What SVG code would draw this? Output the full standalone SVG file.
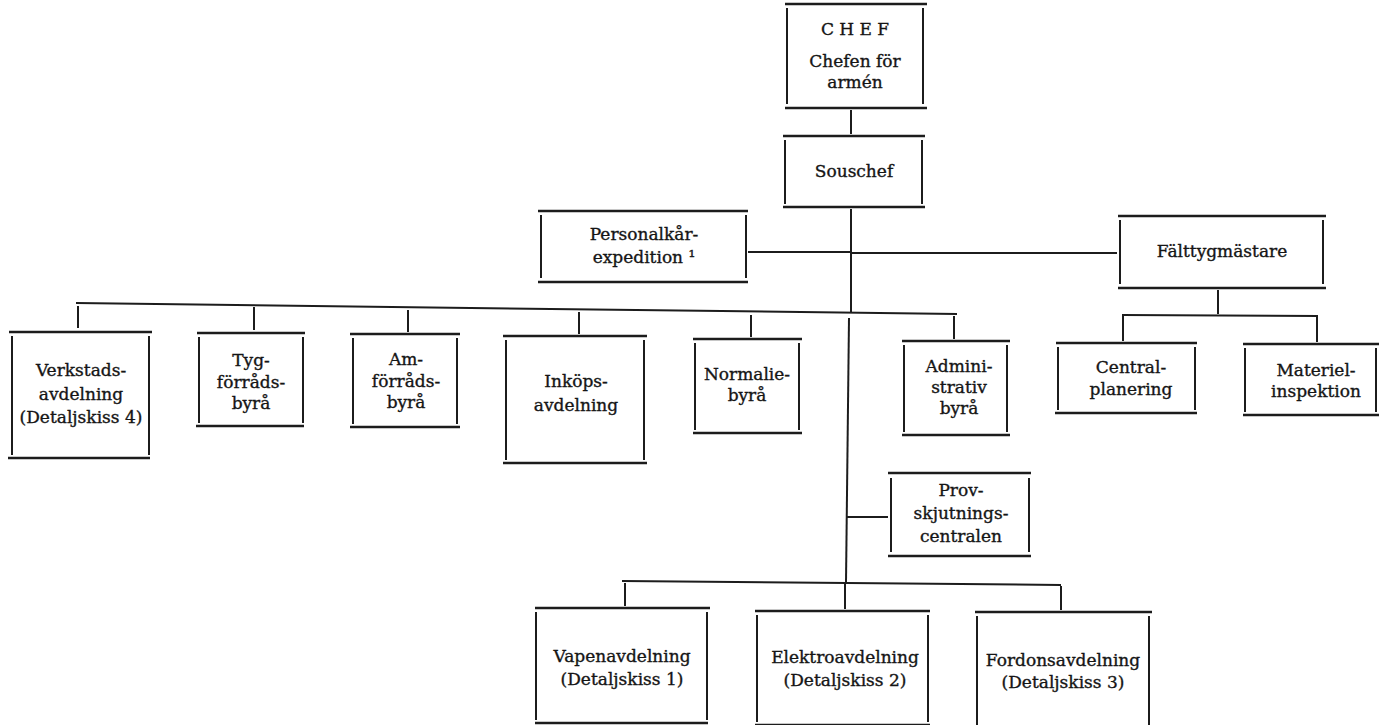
<svg xmlns="http://www.w3.org/2000/svg" width="1379" height="725" viewBox="0 0 1379 725">
<style>
.h{stroke:#1c1c1c;stroke-width:2.6;fill:none}
.v{stroke:#1c1c1c;stroke-width:2;fill:none}
.c{stroke:#1c1c1c;stroke-width:2;fill:none}
text{font-family:"DejaVu Serif","Liberation Serif",serif;font-size:17px;fill:#151515;stroke:#151515;stroke-width:0.35;text-anchor:middle}
</style>
<rect width="1379" height="725" fill="#ffffff"/>
<g id="connectors">
<line class="c" x1="851" y1="110" x2="851" y2="134"/>
<line class="c" x1="851" y1="209" x2="851" y2="312"/>
<line class="c" x1="748" y1="252" x2="851" y2="252"/>
<line class="c" x1="851" y1="253" x2="1117" y2="253"/>
<line class="c" x1="76" y1="303" x2="957" y2="314"/>
<line class="c" x1="78" y1="306" x2="78" y2="328"/>
<line class="c" x1="254" y1="307" x2="254" y2="330"/>
<line class="c" x1="408" y1="310" x2="408" y2="332"/>
<line class="c" x1="579" y1="312" x2="579" y2="334"/>
<line class="c" x1="751" y1="315" x2="751" y2="337"/>
<line class="c" x1="954" y1="316" x2="954" y2="339"/>
<line class="c" x1="849" y1="318" x2="846" y2="582"/>
<line class="c" x1="846" y1="517" x2="888" y2="517"/>
<line class="c" x1="622" y1="581" x2="1061" y2="585"/>
<line class="c" x1="625" y1="583" x2="625" y2="606"/>
<line class="c" x1="845" y1="584" x2="845" y2="609"/>
<line class="c" x1="1061" y1="586" x2="1061" y2="610"/>
<line class="c" x1="1218" y1="290" x2="1218" y2="314"/>
<line class="c" x1="1122" y1="315" x2="1318" y2="316"/>
<line class="c" x1="1123" y1="316" x2="1123" y2="341"/>
<line class="c" x1="1317" y1="317" x2="1317" y2="342"/>
</g>
<g id="chef">
<line class="h" x1="785" y1="4" x2="927" y2="4"/><line class="h" x1="785" y1="108" x2="927" y2="108"/>
<line class="v" x1="787" y1="8" x2="787" y2="104"/><line class="v" x1="923" y1="8" x2="923" y2="104"/>
<text x="855" y="35">C H E F</text><text x="855" y="67">Chefen för</text><text x="855" y="88">armén</text>
</g>
<g id="souschef">
<line class="h" x1="783" y1="136" x2="925" y2="136"/><line class="h" x1="783" y1="207" x2="925" y2="207"/>
<line class="v" x1="785" y1="140" x2="785" y2="204"/><line class="v" x1="922" y1="140" x2="922" y2="204"/>
<text x="854" y="177">Souschef</text>
</g>
<g id="personalkar">
<line class="h" x1="538" y1="211" x2="748" y2="211"/><line class="h" x1="538" y1="282" x2="748" y2="282"/>
<line class="v" x1="541" y1="215" x2="541" y2="278"/><line class="v" x1="746" y1="215" x2="746" y2="278"/>
<text x="644" y="240">Personalkår-</text><text x="644" y="263">expedition ¹</text>
</g>
<g id="falttygmastare">
<line class="h" x1="1118" y1="216" x2="1326" y2="216"/><line class="h" x1="1118" y1="288" x2="1326" y2="288"/>
<line class="v" x1="1120" y1="220" x2="1120" y2="284"/><line class="v" x1="1323" y1="220" x2="1323" y2="284"/>
<text x="1222" y="257">Fälttygmästare</text>
</g>
<g id="verkstad">
<line class="h" x1="9" y1="332" x2="152" y2="332"/><line class="h" x1="8" y1="458" x2="150" y2="458"/>
<line class="v" x1="12" y1="336" x2="12" y2="455"/><line class="v" x1="149" y1="336" x2="149" y2="455"/>
<text x="81" y="376">Verkstads-</text><text x="81" y="400">avdelning</text><text x="81" y="423">(Detaljskiss 4)</text>
</g>
<g id="tyg">
<line class="h" x1="197" y1="333" x2="305" y2="333"/><line class="h" x1="196" y1="426" x2="304" y2="426"/>
<line class="v" x1="199" y1="337" x2="199" y2="423"/><line class="v" x1="303" y1="337" x2="303" y2="423"/>
<text x="251" y="366">Tyg-</text><text x="251" y="388">förråds-</text><text x="251" y="409">byrå</text>
</g>
<g id="am">
<line class="h" x1="350" y1="334" x2="460" y2="334"/><line class="h" x1="350" y1="427" x2="460" y2="427"/>
<line class="v" x1="353" y1="338" x2="353" y2="424"/><line class="v" x1="457" y1="338" x2="457" y2="424"/>
<text x="406" y="365">Am-</text><text x="406" y="387">förråds-</text><text x="406" y="408">byrå</text>
</g>
<g id="inkop">
<line class="h" x1="503" y1="336" x2="647" y2="336"/><line class="h" x1="503" y1="463" x2="647" y2="463"/>
<line class="v" x1="506" y1="340" x2="506" y2="460"/><line class="v" x1="644" y1="340" x2="644" y2="460"/>
<text x="576" y="387">Inköps-</text><text x="576" y="411">avdelning</text>
</g>
<g id="normalie">
<line class="h" x1="693" y1="339" x2="802" y2="339"/><line class="h" x1="693" y1="433" x2="802" y2="433"/>
<line class="v" x1="695" y1="343" x2="695" y2="430"/><line class="v" x1="799" y1="343" x2="799" y2="430"/>
<text x="747" y="380">Normalie-</text><text x="747" y="401">byrå</text>
</g>
<g id="administrativ">
<line class="h" x1="902" y1="341" x2="1010" y2="341"/><line class="h" x1="902" y1="435" x2="1010" y2="435"/>
<line class="v" x1="904" y1="345" x2="904" y2="432"/><line class="v" x1="1007" y1="345" x2="1007" y2="432"/>
<text x="959" y="372">Admini-</text><text x="959" y="393">strativ</text><text x="959" y="414">byrå</text>
</g>
<g id="centralplanering">
<line class="h" x1="1056" y1="343" x2="1197" y2="343"/><line class="h" x1="1055" y1="413" x2="1197" y2="413"/>
<line class="v" x1="1058" y1="347" x2="1058" y2="410"/><line class="v" x1="1195" y1="347" x2="1195" y2="410"/>
<text x="1131" y="373">Central-</text><text x="1131" y="395">planering</text>
</g>
<g id="materielinspektion">
<line class="h" x1="1243" y1="344" x2="1379" y2="344"/><line class="h" x1="1243" y1="415" x2="1379" y2="415"/>
<line class="v" x1="1245" y1="348" x2="1245" y2="412"/><line class="v" x1="1376" y1="348" x2="1376" y2="412"/>
<text x="1316" y="376">Materiel-</text><text x="1316" y="397">inspektion</text>
</g>
<g id="provskjutning">
<line class="h" x1="888" y1="473" x2="1031" y2="473"/><line class="h" x1="888" y1="556" x2="1031" y2="556"/>
<line class="v" x1="891" y1="478" x2="891" y2="552"/><line class="v" x1="1029" y1="478" x2="1029" y2="552"/>
<text x="961" y="496">Prov-</text><text x="961" y="519">skjutnings-</text><text x="961" y="542">centralen</text>
</g>
<g id="vapen">
<line class="h" x1="535" y1="608" x2="710" y2="608"/><line class="h" x1="535" y1="723" x2="708" y2="723"/>
<line class="v" x1="536" y1="612" x2="536" y2="720"/><line class="v" x1="707" y1="612" x2="707" y2="720"/>
<text x="622" y="662">Vapenavdelning</text><text x="622" y="685">(Detaljskiss 1)</text>
</g>
<g id="elektro">
<line class="h" x1="755" y1="611" x2="930" y2="611"/><line class="h" x1="755" y1="725" x2="930" y2="725"/>
<line class="v" x1="757" y1="615" x2="757" y2="722"/><line class="v" x1="928" y1="615" x2="928" y2="722"/>
<text x="845" y="663">Elektroavdelning</text><text x="845" y="686">(Detaljskiss 2)</text>
</g>
<g id="fordon">
<line class="h" x1="975" y1="612" x2="1152" y2="612"/><line class="h" x1="975" y1="727" x2="1152" y2="727"/>
<line class="v" x1="977" y1="616" x2="977" y2="725"/><line class="v" x1="1149" y1="616" x2="1149" y2="725"/>
<text x="1063" y="666">Fordonsavdelning</text><text x="1063" y="688">(Detaljskiss 3)</text>
</g>
</svg>
